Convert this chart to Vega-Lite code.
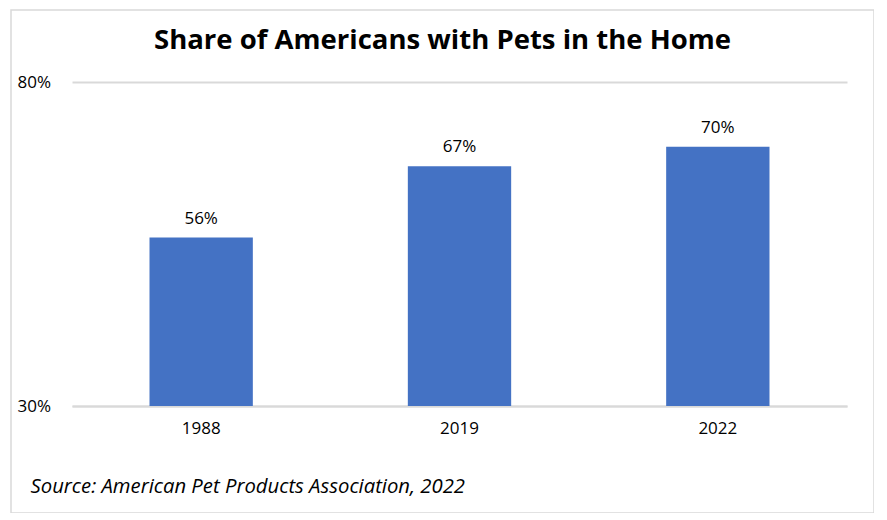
{
  "$schema": "https://vega.github.io/schema/vega-lite/v6.json",
  "description": "Share of Americans with pets in the home, by survey year.",
  "width": 863,
  "height": 503,
  "autosize": {"type": "none"},
  "padding": {"left": 11, "top": 10, "right": 0, "bottom": 0},
  "background": "white",
  "title": {
    "text": "Share of Americans with Pets in the Home",
    "font": "Open Sans",
    "fontSize": 27.5,
    "fontWeight": "bold",
    "color": "#000000",
    "anchor": "middle",
    "baseline": "alphabetic",
    "offset": -66
  },
  "data": {
    "values": [
      {"year": "1988", "share": 0.56},
      {"year": "2019", "share": 0.67},
      {"year": "2022", "share": 0.70}
    ]
  },
  "encoding": {
    "x": {
      "field": "year",
      "type": "nominal",
      "sort": null,
      "scale": {"range": [61, 836], "paddingInner": 0.6, "paddingOuter": 0.3},
      "axis": {
        "title": "Source: American Pet Products Association, 2022",
        "titleFont": "Open Sans",
        "titleFontSize": 20.3,
        "titleFontStyle": "italic",
        "titleFontWeight": "normal",
        "titleColor": "#000000",
        "titleAlign": "left",
        "titleAnchor": null,
        "titleBaseline": "alphabetic",
        "titleX": 19,
        "titleY": 86,
        "offset": -107,
        "labelAngle": 0,
        "labelFont": "Open Sans",
        "labelFontSize": 17,
        "labelColor": "#000000",
        "labelPadding": 14,
        "ticks": false,
        "domainColor": "#d9d9d9",
        "domainWidth": 2,
        "grid": false
      }
    },
    "y": {
      "field": "share",
      "type": "quantitative",
      "scale": {"domain": [0.3, 0.8], "range": [396, 72], "nice": false, "zero": false},
      "axis": {
        "title": null,
        "values": [0.3, 0.8],
        "format": ".0%",
        "labelFont": "Open Sans",
        "labelFontSize": 17,
        "labelColor": "#000000",
        "labelAlign": "left",
        "labelPadding": -6,
        "ticks": false,
        "tickSize": 0,
        "domain": false,
        "grid": true,
        "gridColor": "#d9d9d9",
        "gridWidth": 2
      }
    }
  },
  "layer": [
    {
      "mark": {"type": "bar", "color": "#4472C4"},
      "encoding": {"y2": {"datum": 0.3}}
    },
    {
      "mark": {
        "type": "text",
        "font": "Open Sans",
        "fontSize": 17,
        "color": "#000000",
        "baseline": "alphabetic",
        "dy": -14
      },
      "encoding": {"text": {"field": "share", "type": "quantitative", "format": ".0%"}}
    }
  ],
  "config": {
    "view": {"stroke": "#d9d9d9", "strokeWidth": 1.5}
  }
}
